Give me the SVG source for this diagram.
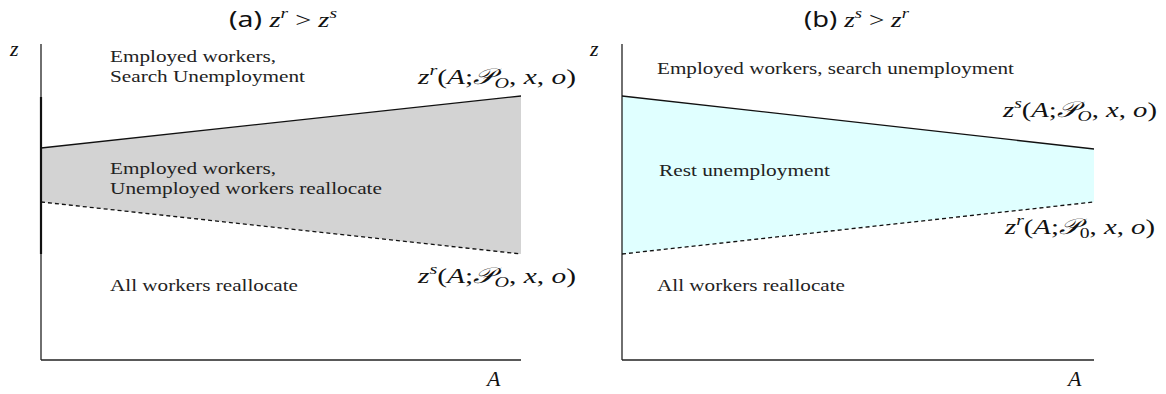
<svg xmlns="http://www.w3.org/2000/svg" width="1166" height="394" viewBox="0 0 1166 394">
<style>
.t{font-family:"Liberation Serif","DejaVu Serif",serif;font-size:17.5px;fill:#222}
.m{font-family:"Liberation Serif","DejaVu Serif",serif;font-size:22px;fill:#111}
.i{font-style:italic}
.sc{font-family:"DejaVu Sans","Noto Sans",sans-serif;font-style:italic}
.ttl{font-family:"Noto Sans","Open Sans",sans-serif;font-size:22px;fill:#111}
.ax{stroke:#222;stroke-width:1.3;fill:none}
.sol{stroke:#111;stroke-width:1.3;fill:none}
.dash{stroke:#111;stroke-width:1.3;fill:none;stroke-dasharray:4 3}
</style>
<rect width="1166" height="394" fill="#fff"/>

<g id="panel-a">
  <text class="ttl" x="229" y="27" textLength="108" lengthAdjust="spacingAndGlyphs">(a) <tspan class="m i">z<tspan dy="-9" font-size="15">r</tspan><tspan dy="9" font-style="normal"> &gt; </tspan>z<tspan dy="-9" font-size="15">s</tspan></tspan></text>
  <g id="region-a">
    <polygon points="41,148 521,96 521,254 41,202" fill="#d3d3d3"/>
  </g>
  <g id="axes-a">
    <line class="ax" x1="41" y1="44" x2="41" y2="360"/>
    <line x1="41" y1="97" x2="41" y2="254" stroke="#111" stroke-width="2.2"/>
    <line class="ax" x1="41" y1="360" x2="521" y2="360"/>
    <text class="m i" x="10" y="56">z</text>
    <text class="m i" x="487" y="386">A</text>
  </g>
  <g id="curves-a">
    <line class="sol" x1="41" y1="148" x2="521" y2="96"/>
    <line class="dash" x1="41" y1="202" x2="521" y2="254"/>
  </g>
  <g id="label-zr-a">
    <text class="m" x="418" y="84" textLength="158" lengthAdjust="spacingAndGlyphs"><tspan class="i">z</tspan><tspan class="i" dy="-9" font-size="15">r</tspan><tspan dy="9">(</tspan><tspan class="i">A</tspan>;<tspan class="sc">𝒫</tspan><tspan class="i" dy="4" font-size="15">O</tspan><tspan dy="-4">, </tspan><tspan class="i">x</tspan>, <tspan class="i">o</tspan>)</text>
  </g>
  <g id="label-zs-a">
    <text class="m" x="418" y="283" textLength="158" lengthAdjust="spacingAndGlyphs"><tspan class="i">z</tspan><tspan class="i" dy="-9" font-size="15">s</tspan><tspan dy="9">(</tspan><tspan class="i">A</tspan>;<tspan class="sc">𝒫</tspan><tspan class="i" dy="4" font-size="15">O</tspan><tspan dy="-4">, </tspan><tspan class="i">x</tspan>, <tspan class="i">o</tspan>)</text>
  </g>
  <g id="text-top-a">
    <text class="t" x="110" y="62" textLength="166" lengthAdjust="spacingAndGlyphs">Employed workers,</text>
    <text class="t" x="110" y="82" textLength="195" lengthAdjust="spacingAndGlyphs">Search Unemployment</text>
  </g>
  <g id="text-mid-a">
    <text class="t" x="110" y="174" textLength="166" lengthAdjust="spacingAndGlyphs">Employed workers,</text>
    <text class="t" x="110" y="194" textLength="272" lengthAdjust="spacingAndGlyphs">Unemployed workers reallocate</text>
  </g>
  <g id="text-bot-a">
    <text class="t" x="110" y="291" textLength="188" lengthAdjust="spacingAndGlyphs">All workers reallocate</text>
  </g>
</g>

<g id="panel-b">
  <text class="ttl" x="804" y="27" textLength="105" lengthAdjust="spacingAndGlyphs">(b) <tspan class="m i">z<tspan dy="-9" font-size="15">s</tspan><tspan dy="9" font-style="normal"> &gt; </tspan>z<tspan dy="-9" font-size="15">r</tspan></tspan></text>
  <g id="region-b">
    <polygon points="622,96 1094,149 1094,202 622,254" fill="#e0ffff"/>
  </g>
  <g id="axes-b">
    <line class="ax" x1="622" y1="44" x2="622" y2="360"/>
    <line class="ax" x1="622" y1="360" x2="1094" y2="360"/>
    <text class="m i" x="590" y="56">z</text>
    <text class="m i" x="1068" y="386">A</text>
  </g>
  <g id="curves-b">
    <line class="sol" x1="622" y1="96" x2="1094" y2="149"/>
    <line class="dash" x1="622" y1="254" x2="1094" y2="202"/>
  </g>
  <g id="label-zs-b">
    <text class="m" x="1003" y="117" textLength="154" lengthAdjust="spacingAndGlyphs"><tspan class="i">z</tspan><tspan class="i" dy="-9" font-size="15">s</tspan><tspan dy="9">(</tspan><tspan class="i">A</tspan>;<tspan class="sc">𝒫</tspan><tspan class="i" dy="4" font-size="15">O</tspan><tspan dy="-4">, </tspan><tspan class="i">x</tspan>, <tspan class="i">o</tspan>)</text>
  </g>
  <g id="label-zr-b">
    <text class="m" x="1005" y="234" textLength="150" lengthAdjust="spacingAndGlyphs"><tspan class="i">z</tspan><tspan class="i" dy="-9" font-size="15">r</tspan><tspan dy="9">(</tspan><tspan class="i">A</tspan>;<tspan class="sc">𝒫</tspan><tspan dy="4" font-size="15">0</tspan><tspan dy="-4">, </tspan><tspan class="i">x</tspan>, <tspan class="i">o</tspan>)</text>
  </g>
  <g id="text-top-b">
    <text class="t" x="657" y="74" textLength="357" lengthAdjust="spacingAndGlyphs">Employed workers, search unemployment</text>
  </g>
  <g id="text-mid-b">
    <text class="t" x="659" y="176" textLength="171" lengthAdjust="spacingAndGlyphs">Rest unemployment</text>
  </g>
  <g id="text-bot-b">
    <text class="t" x="657" y="291" textLength="188" lengthAdjust="spacingAndGlyphs">All workers reallocate</text>
  </g>
</g>
</svg>
